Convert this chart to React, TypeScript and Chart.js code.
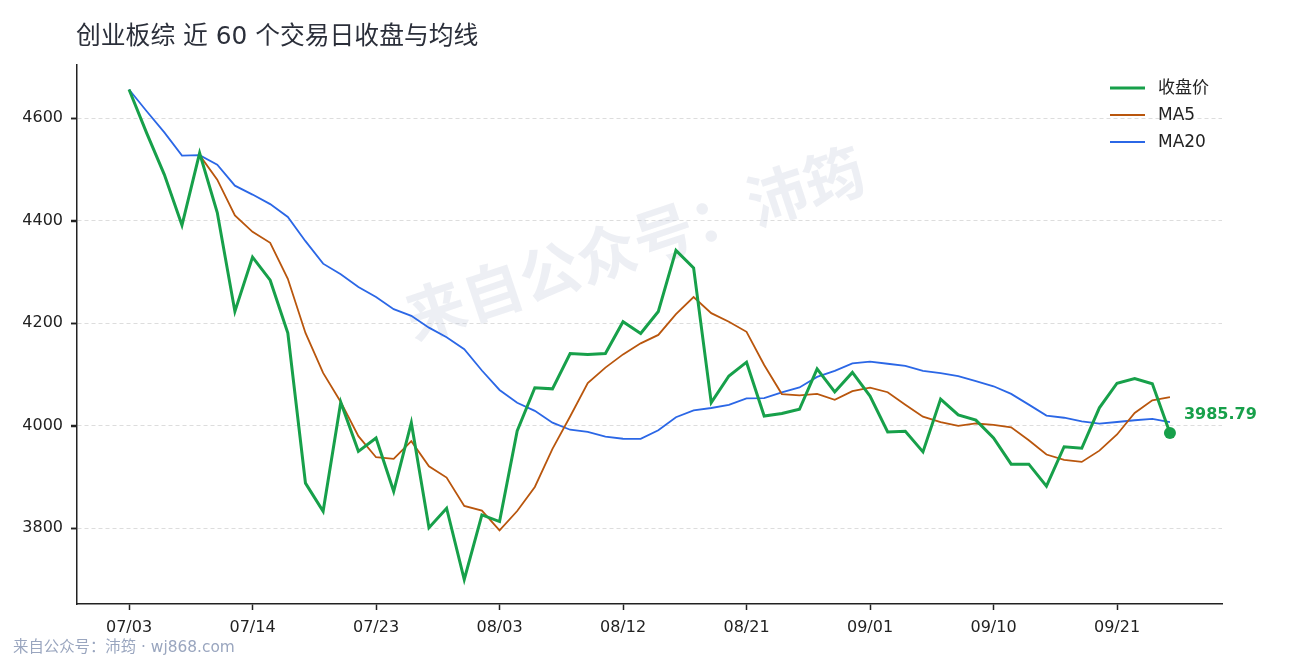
import React, { useEffect, useRef } from 'react'
import { Chart, registerables } from 'chart.js'

Chart.register(...registerables)

// 交易日（2020）
const dates = [
	'07/03', '07/06', '07/07', '07/08', '07/09', '07/10', '07/13', '07/14', '07/15', '07/16',
	'07/17', '07/20', '07/21', '07/22', '07/23', '07/24', '07/27', '07/28', '07/29', '07/30',
	'07/31', '08/03', '08/04', '08/05', '08/06', '08/07', '08/10', '08/11', '08/12', '08/13',
	'08/14', '08/17', '08/18', '08/19', '08/20', '08/21', '08/24', '08/25', '08/26', '08/27',
	'08/28', '08/31', '09/01', '09/02', '09/03', '09/04', '09/07', '09/08', '09/09', '09/10',
	'09/11', '09/14', '09/15', '09/16', '09/17', '09/18', '09/21', '09/22', '09/23', '09/24',
]

const closes = [
	4656, 4571, 4490, 4391, 4532, 4416, 4223, 4329, 4284, 4181,
	3888, 3833, 4046, 3950, 3976, 3872, 4006, 3801, 3839, 3700,
	3826, 3813, 3990, 4074, 4072, 4141, 4139, 4141, 4203, 4180,
	4223, 4342, 4308, 4045, 4097, 4124, 4019, 4024, 4032, 4111,
	4066, 4104, 4058, 3988, 3989, 3949, 4052, 4021, 4011, 3976,
	3925, 3925, 3882, 3959, 3956, 4035, 4083, 4092, 4082, 3985.79,
]

const ma5 = [
	null, null, null, null, 4528, 4480, 4410.4, 4378.2, 4356.8, 4286.6,
	4181, 4103, 4046.4, 3979.6, 3938.6, 3935.4, 3970, 3921, 3898.8, 3843.6,
	3834.4, 3795.8, 3833.6, 3880.6, 3955, 4018, 4083.2, 4113.4, 4139.2, 4160.8,
	4177.2, 4217.8, 4251.2, 4219.6, 4203, 4183.2, 4118.6, 4061.8, 4059.2, 4062,
	4050.4, 4067.4, 4074.2, 4065.4, 4041, 4017.6, 4007.2, 3999.8, 4004.4, 4001.8,
	3997, 3971.6, 3943.8, 3933.4, 3929.4, 3951.4, 3983, 4025, 4049.6, 4055.6,
]

const ma20 = [
	4656, 4613.5, 4572.3, 4527, 4528, 4509.3, 4468.4, 4451, 4432.4, 4407.3,
	4360.1, 4316.2, 4295.4, 4270.7, 4251.1, 4227.4, 4214.4, 4191.4, 4172.8, 4149.2,
	4107.7, 4069.8, 4044.8, 4029, 4006, 3992.2, 3988, 3978.6, 3974.6, 3974.5,
	3991.3, 4016.7, 4029.8, 4034.6, 4040.6, 4053.2, 4053.9, 4065, 4074.7, 4095.2,
	4107.2, 4121.8, 4125.2, 4120.9, 4116.7, 4107.1, 4102.8, 4096.8, 4087.2, 4077,
	4062.1, 4041.2, 4019.9, 4015.6, 4008.6, 4004.1, 4007.3, 4010.7, 4013.2, 4006.9,
]

const yTicks = [3800, 4000, 4200, 4400, 4600]
const tickEvery = 7

const FONT = '"DejaVu Sans", "Noto Sans CJK SC", sans-serif'
const GREEN = '#17a04a'
const ORANGE = '#b9560d'
const BLUE = '#2b67e6'
const INK = '#222222'

const toPoints = (arr: (number | null)[]) => arr.map((v, i) => ({ x: i, y: v }))

const last = closes.length - 1
const lo = Math.min(...closes)
const hi = Math.max(...closes)
const pad = (hi - lo) * 0.05

const decorPlugin = {
	id: 'decor',
	beforeDatasetsDraw(chart: any) {
		const { ctx } = chart
		ctx.save()
		ctx.translate(637, 250)
		ctx.rotate((-18.5 * Math.PI) / 180)
		ctx.font = `bold 60px ${FONT}`
		ctx.fillStyle = 'rgba(185, 192, 210, 0.25)'
		ctx.textAlign = 'center'
		ctx.textBaseline = 'middle'
		ctx.fillText('来自公众号：沛筠', 0, 0)
		ctx.restore()
	},
	afterDraw(chart: any) {
		const { ctx, chartArea } = chart
		const yScale = chart.scales.y
		ctx.save()

		// y tick marks (outward)
		ctx.strokeStyle = INK
		ctx.lineWidth = 1.5
		yTicks.forEach((v) => {
			const py = Math.round(yScale.getPixelForValue(v)) + 0.5
			ctx.beginPath()
			ctx.moveTo(chartArea.left - 6, py)
			ctx.lineTo(chartArea.left, py)
			ctx.stroke()
		})

		// title
		ctx.font = `24.8px ${FONT}`
		ctx.fillStyle = '#2b2f3a'
		ctx.textBaseline = 'middle'
		ctx.fillText('创业板综 近 60 个交易日收盘与均线', 76, 38)

		// legend
		const items = [
			{ label: '收盘价', color: GREEN, width: 3 },
			{ label: 'MA5', color: ORANGE, width: 2 },
			{ label: 'MA20', color: BLUE, width: 2 },
		]
		items.forEach((it, k) => {
			const y = 88 + k * 27
			ctx.strokeStyle = it.color
			ctx.lineWidth = it.width
			ctx.beginPath()
			ctx.moveTo(1110, y)
			ctx.lineTo(1145, y)
			ctx.stroke()
			ctx.font = `17px ${FONT}`
			ctx.fillStyle = INK
			ctx.fillText(it.label, 1158, y + 1)
		})

		// last value label
		const pt = chart.getDatasetMeta(0).data[last]
		ctx.font = `bold 16px ${FONT}`
		ctx.fillStyle = GREEN
		ctx.fillText(closes[last].toFixed(2), pt.x + 14, pt.y - 18)

		// footer
		ctx.font = `15.4px ${FONT}`
		ctx.fillStyle = '#9aa6bf'
		ctx.fillText('来自公众号：沛筠 · wj868.com', 13, 648)
		ctx.restore()
	},
}

const CloseMaChart: React.FC = () => {
	const chartRef = useRef<HTMLCanvasElement>(null)

	useEffect(() => {
		if (!chartRef.current) return
		const context = chartRef.current.getContext('2d')
		if (!context) return

		const chart = new Chart(context, {
			type: 'line',
			data: {
				datasets: [
					{
						label: '收盘价',
						data: toPoints(closes),
						borderColor: GREEN,
						backgroundColor: GREEN,
						borderWidth: 3,
						pointRadius: closes.map((_, i) => (i === last ? 6 : 0)),
						pointHoverRadius: 0,
						pointBorderWidth: 0,
						tension: 0,
					},
					{
						label: 'MA5',
						data: toPoints(ma5),
						borderColor: ORANGE,
						borderWidth: 1.8,
						pointRadius: 0,
						tension: 0,
					},
					{
						label: 'MA20',
						data: toPoints(ma20),
						borderColor: BLUE,
						borderWidth: 1.8,
						pointRadius: 0,
						tension: 0,
					},
				],
			},
			options: {
				animation: false,
				responsive: false,
				events: [],
				layout: { padding: { top: 65, right: 68, left: 0, bottom: 0 } },
				plugins: {
					legend: { display: false },
					title: { display: false },
					tooltip: { enabled: false },
				},
				scales: {
					x: {
						type: 'linear',
						min: -last * 0.05,
						max: last * 1.05,
						afterFit: (s: any) => {
							s.height = 56
						},
						afterBuildTicks: (s: any) => {
							s.ticks = dates
								.map((_, i) => i)
								.filter((i) => i % tickEvery === 0)
								.map((i) => ({ value: i }))
						},
						ticks: {
							callback: (v: any) => dates[v] ?? '',
							font: { family: FONT, size: 16 },
							color: INK,
							padding: 8,
							maxRotation: 0,
							autoSkip: false,
						},
						grid: {
							drawOnChartArea: false,
							drawTicks: true,
							tickLength: 6,
							tickColor: INK,
							tickWidth: 1.5,
						},
						border: { display: true, color: INK, width: 1.5 },
					},
					y: {
						type: 'linear',
						min: lo - pad,
						max: hi + pad,
						afterFit: (s: any) => {
							s.width = 77
						},
						afterBuildTicks: (s: any) => {
							s.ticks = yTicks.map((v) => ({ value: v }))
						},
						ticks: {
							callback: (v: any) => String(v),
							font: { family: FONT, size: 16 },
							color: INK,
							padding: 8,
						},
						grid: {
							color: '#dddddd',
							lineWidth: 1,
							drawTicks: true,
							tickLength: 6,
							tickColor: INK,
							tickWidth: 1.5,
						},
						border: { display: true, color: INK, width: 1.5, dash: [4, 3] },
					},
				},
			},
			plugins: [decorPlugin],
		})

		return () => {
			chart.destroy()
		}
	}, [])

	return (
		<div style={{ position: 'fixed', left: 0, top: 0, width: 1290, height: 660, background: '#fff' }}>
			<canvas ref={chartRef} width={1290} height={660} style={{ width: 1290, height: 660 }} />
		</div>
	)
}

export default CloseMaChart
